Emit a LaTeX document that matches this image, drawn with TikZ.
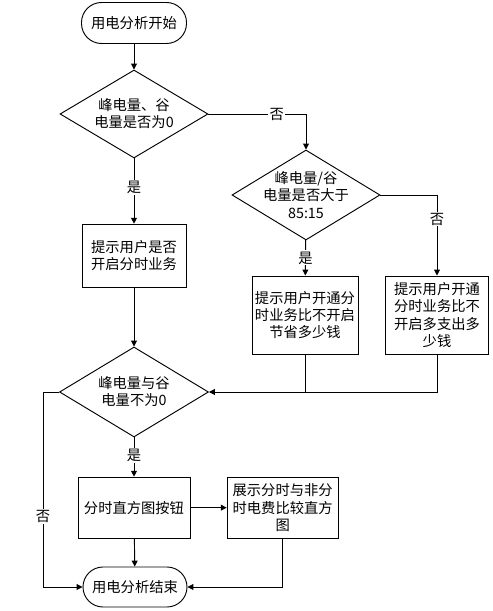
\documentclass[tikz,border=0pt]{standalone}
\usepackage{fontspec}
\newfontfamily\cjk{Noto Sans CJK SC}
\usetikzlibrary{calc,positioning,arrows.meta,shapes.geometric}

\tikzset{
  base/.style={draw=black,line width=0.8pt,inner sep=0pt,align=center,
    font=\cjk\fontsize{12.2}{14.6}\selectfont},
  term/.style={base,rectangle,rounded corners=0.6cm},
  proc/.style={base,rectangle},
  dec/.style={base,diamond},
  dectxt/.style={inner sep=0pt,align=center,font=\cjk\fontsize{12.2}{14.6}\selectfont},
  lbl/.style={fill=white,inner sep=1pt,font=\cjk\fontsize{12.2}{14.6}\selectfont},
  flow/.style={line width=0.8pt,-{Triangle[length=5pt,width=5pt]}},
  seg/.style={line width=0.8pt}
}

\begin{document}
\begin{tikzpicture}
  \useasboundingbox (0cm,0cm) rectangle (14.79cm,18.33cm);
  % nodes
  \node[term,minimum width=3.15cm,minimum height=1.23cm] (st) at (4.02cm,17.64cm) {用电分析开始};
  \node[dec,minimum width=4.44cm,minimum height=2.64cm] (d1) at (4.02cm,14.91cm) {};
  \node[dectxt] (d1t) at (d1) {峰电量、谷\\电量是否为0};
  \node[proc,minimum width=3.12cm,minimum height=1.89cm] (b2) at (4.02cm,10.66cm) {提示用户是否\\开启分时业务};
  \node[dec,minimum width=4.44cm,minimum height=2.70cm] (d2) at (9.18cm,12.48cm) {};
  \node[dectxt] (d2t) at (d2) {峰电量/谷\\电量是否大于\\85:15};
  \node[proc,minimum width=3.18cm,minimum height=2.34cm] (b3) at (9.15cm,8.88cm) {提示用户开通分\\时业务比不开启\\节省多少钱};
  \node[proc,minimum width=3.09cm,minimum height=2.34cm] (b4) at (13.11cm,8.88cm) {提示用户开通\\分时业务比不\\开启多支出多\\少钱};
  \node[dec,minimum width=4.47cm,minimum height=2.70cm] (d3) at (4.02cm,6.57cm) {};
  \node[dectxt] (d3t) at (d3) {峰电量与谷\\电量不为0};
  \node[proc,minimum width=3.36cm,minimum height=1.83cm] (b5) at (4.02cm,3.10cm) {分时直方图按钮};
  \node[proc,minimum width=3.33cm,minimum height=1.83cm] (b6) at (8.48cm,3.10cm) {展示分时与非分\\时电费比较直方\\图};
  \node[term,minimum width=3.12cm,minimum height=1.20cm] (en) at (4.05cm,0.72cm) {用电分析结束};
  \coordinate (lft) at (1.29cm,6.57cm);

  % connectors
  \draw[flow] (st) -- (d1);
  \draw[flow] (d1) -- node[lbl,pos=0.45] (y1) {是} (b2);
  \draw[flow] (d1.east) -| node[lbl,pos=0.35] (n1) {否} (d2.north);
  \draw[flow] (d2) -- node[lbl,pos=0.5] (y2) {是} (b3);
  \draw[flow] (d2.east) -| node[lbl,pos=0.65] (n2) {否} (b4.north);
  \draw[flow] (b2) -- (d3);
  \draw[seg] (b3.south) -- (b3.south |- d3.east);
  \draw[flow] (b4.south) |- (d3.east);
  \draw[flow] (d3) -- node[lbl,pos=0.45] (y3) {是} (b5);
  \draw[flow] (d3.west) -- (lft) |- node[lbl,pos=0.32] (n3) {否} (en.west);
  \draw[flow] (b5) -- (b6);
  \draw[flow] (b5) -- (en);
  \draw[flow] (b6.south) |- (en.east);
\end{tikzpicture}
\end{document}
